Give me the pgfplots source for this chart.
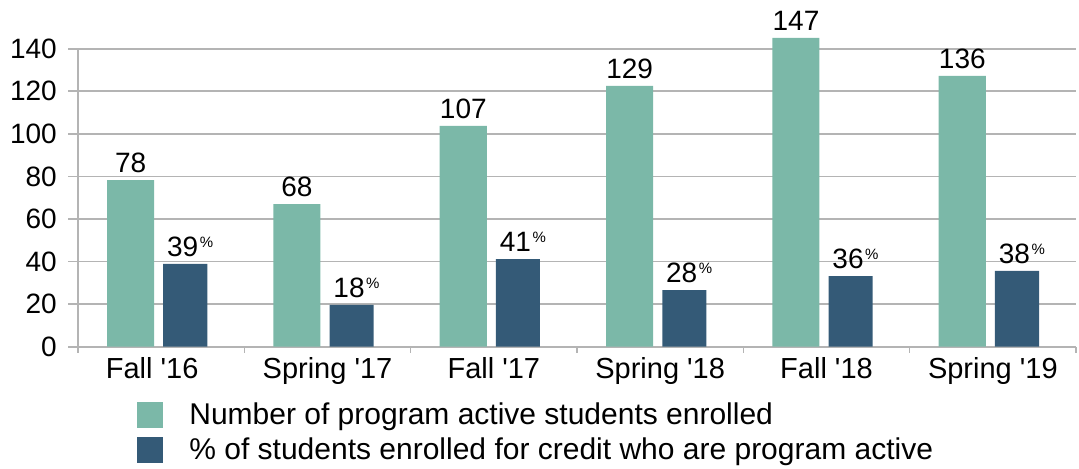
\documentclass[border=0pt]{standalone}
\usepackage{pgfplots}
\pgfplotsset{compat=1.18}
\usepackage{fontspec}
\setmainfont{Liberation Sans}
\definecolor{cgreen}{HTML}{7BB8A8}
\definecolor{cblue}{HTML}{345A77}
\definecolor{cgrid}{HTML}{B4B4B4}
\newcommand\pct[1]{#1\rlap{\kern0.8pt\raisebox{4.6pt}{\fontsize{7.5}{8}\selectfont\%}}}
\begin{document}
\begin{tikzpicture}
\begin{axis}[
  at={(0,0)}, anchor=south west,
  scale only axis, width=499pt, height=149pt,
  xmin=-0.5, xmax=5.5, ymin=0, ymax=140,
  clip=false,
  axis x line*=bottom, axis y line*=left,
  axis line style={draw=cgrid, line width=0.8pt},
  ytick={0,20,...,140},
  ymajorgrids, grid style={cgrid, line width=0.8pt},
  tick align=outside,
  ytick style={draw=cgrid, line width=0.8pt, /pgfplots/major tick length=5pt},
  xtick={-0.5,0.5,...,5.5},
  xticklabels={Fall \textquotesingle16\hspace*{9pt}, Spring \textquotesingle17, Fall \textquotesingle17, Spring \textquotesingle18, Fall \textquotesingle18, Spring \textquotesingle19},
  x tick label as interval,
  xtick style={draw=cgrid, line width=0.8pt, /pgfplots/major tick length=3pt},
  yticklabel style={font=\fontsize{14}{16}\selectfont, xshift=-2.8pt},
  xticklabel style={font=\fontsize{14.5}{16}\selectfont, inner sep=0pt, yshift=-1pt},
  /pgf/number format/assume math mode=true,
  nodes near coords style={font=\fontsize{14}{16}\selectfont, anchor=south, inner sep=0pt, yshift=3.5pt},
  legend image code/.code={\fill[#1] (0pt,-6.5pt) rectangle (13pt,6.5pt);},
  legend cell align=left,
  legend style={at={(axis description cs:0.0591,-0.1856)}, anchor=north west,
    draw=none, fill=none, inner sep=0pt, row sep=4.5pt,
    font=\fontsize{15}{17}\selectfont,
    nodes={inner sep=0pt},
    /tikz/every odd column/.append style={column sep=13pt}},
]
\addplot[ybar, fill=cgreen, draw=none, bar width=0.283, bar shift=-0.184,
  nodes near coords, point meta=explicit symbolic, forget plot,
  every node near coord/.append style={xshift=-15.25pt}]
  coordinates {(0,78.3)[78] (1,67.0)[68] (2,103.7)[107] (3,122.5)[129] (4,145.1)[147] (5,127.2)[136]};
\addplot[ybar, fill=cblue, draw=none, bar width=0.265, bar shift=0.145,
  nodes near coords, point meta=explicit symbolic, forget plot,
  every node near coord/.append style={xshift=10.75pt}]
  coordinates {(0,38.9)[\pct{39}] (1,19.6)[\pct{18}] (2,41.2)[\pct{41}] (3,26.6)[\pct{28}] (4,33.2)[\pct{36}] (5,35.6)[\pct{38}]};
\addlegendimage{fill=cgreen, draw=none}
\addlegendentry{Number of program active students enrolled}
\addlegendimage{fill=cblue, draw=none}
\addlegendentry{\% of students enrolled for credit who are program active}
\end{axis}
\pgfresetboundingbox
\path[use as bounding box] (-39pt,-60.65pt) rectangle (500.5pt,173.35pt);
\end{tikzpicture}
\end{document}
